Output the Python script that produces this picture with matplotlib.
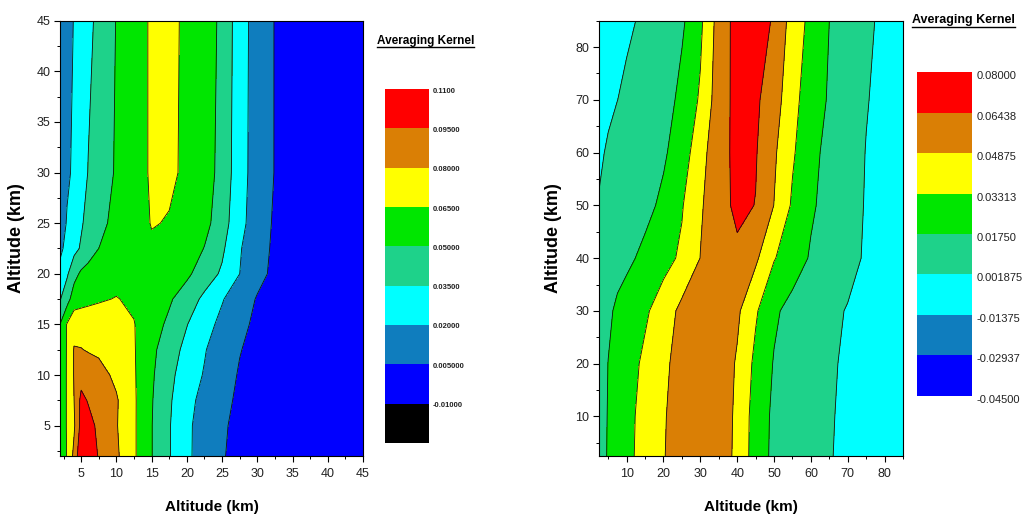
import numpy as np
import matplotlib
matplotlib.use('Agg')
import matplotlib.pyplot as plt
import matplotlib.transforms as mtransforms
from matplotlib.ticker import MultipleLocator
from matplotlib.lines import Line2D

plt.rcParams['font.family'] = ['Liberation Sans', 'DejaVu Sans']

############################################
# data, left panel
alt_x_left = [2, 3, 4, 5, 6, 7.5, 10, 12.5, 15, 17.5, 20, 22.5, 25, 27.5, 30, 32.5, 35, 45]
alt_y_left = [2, 5, 7.5, 10, 12.5, 15, 17.5, 20, 22.5, 25, 30, 45]
kernel_left = [
    [0.052, 0.066, 0.084, 0.108, 0.104, 0.094, 0.0825, 0.067, 0.0505, 0.036, 0.0225, 0.014, 0.006, 0.001, 0.0, -0.001, -0.002, -0.002],
    [0.056, 0.066, 0.078, 0.100, 0.100, 0.092, 0.081, 0.067, 0.0505, 0.036, 0.0225, 0.0145, 0.0068, 0.0015, 0.0, -0.001, -0.002, -0.002],
    [0.056, 0.066, 0.080, 0.099, 0.094, 0.089, 0.0815, 0.067, 0.051, 0.037, 0.024, 0.016, 0.008, 0.003, 0.0, -0.001, -0.002, -0.002],
    [0.056, 0.066, 0.081, 0.089, 0.088, 0.085, 0.077, 0.0665, 0.052, 0.039, 0.027, 0.019, 0.010, 0.004, 0.001, -0.001, -0.002, -0.002],
    [0.055, 0.066, 0.081, 0.0805, 0.079, 0.0775, 0.073, 0.066, 0.0535, 0.0415, 0.031, 0.021, 0.012, 0.0055, 0.0015, 0.0, -0.001, -0.002],
    [0.050, 0.066, 0.0741, 0.074, 0.073, 0.0715, 0.070, 0.0655, 0.0565, 0.047, 0.0355, 0.025, 0.0165, 0.008, 0.0025, 0.0, -0.001, -0.002],
    [0.034, 0.044, 0.0579, 0.060, 0.0619, 0.0638, 0.0655, 0.063, 0.058, 0.052, 0.042, 0.032, 0.021, 0.012, 0.004, 0.0, -0.001, -0.002],
    [0.024, 0.033, 0.045, 0.0525, 0.056, 0.059, 0.061, 0.0605, 0.059, 0.056, 0.053, 0.042, 0.033, 0.020, 0.009, 0.002, 0.0, -0.002],
    [0.017, 0.024, 0.031, 0.0365, 0.042, 0.050, 0.058, 0.062, 0.0635, 0.0625, 0.058, 0.0495, 0.0375, 0.021, 0.012, 0.002, 0.0, -0.002],
    [0.013, 0.021, 0.029, 0.0335, 0.039, 0.046, 0.054, 0.060, 0.0655, 0.0645, 0.061, 0.0545, 0.042, 0.024, 0.013, 0.003, 0.0, -0.002],
    [0.012, 0.018, 0.022, 0.028, 0.0355, 0.042, 0.0515, 0.0595, 0.0665, 0.0665, 0.0635, 0.057, 0.045, 0.026, 0.013, 0.0045, 0.0, -0.002],
    [0.012, 0.016, 0.0205, 0.026, 0.031, 0.039, 0.0505, 0.0595, 0.0665, 0.067, 0.0635, 0.057, 0.047, 0.0265, 0.0135, 0.0045, 0.0, -0.002],
]
levels_left = [-0.025, -0.01, 0.005, 0.02, 0.035, 0.05, 0.065, 0.08, 0.095, 0.11]
labels_left = ['-0.01000', '0.005000', '0.02000', '0.03500', '0.05000',
               '0.06500', '0.08000', '0.09500', '0.1100']
colors_left = ['#000000', '#0000FF', '#0F7DBE', '#00FFFF', '#1ED28A',
               '#00E600', '#FFFF00', '#DA7F05', '#FF0000']

############################################
# data, right panel
alt_x_right = [2.5, 5, 7.5, 10, 12.5, 15, 20, 25, 30, 35, 40, 45, 50, 55, 60, 65, 70, 75, 80, 85]
alt_y_right = [2.5, 10, 20, 30, 40, 50, 60, 70, 85]
kernel_right = [
    [0.010, 0.019, 0.024, 0.029, 0.034, 0.039, 0.048, 0.056, 0.060, 0.058, 0.045, 0.026, 0.014, 0.0095, 0.006, 0.0025, -0.0005, -0.003, -0.005, -0.006],
    [0.010, 0.0185, 0.0235, 0.0285, 0.0335, 0.0385, 0.0475, 0.0555, 0.0605, 0.0585, 0.0455, 0.0265, 0.0145, 0.0097, 0.0062, 0.0028, -0.0003, -0.003, -0.005, -0.006],
    [0.009, 0.0178, 0.0225, 0.027, 0.0315, 0.036, 0.046, 0.054, 0.060, 0.059, 0.047, 0.0295, 0.0165, 0.0105, 0.007, 0.0035, 0.0, -0.003, -0.005, -0.006],
    [0.008, 0.0145, 0.0205, 0.025, 0.029, 0.031, 0.040, 0.053, 0.059, 0.060, 0.0515, 0.035, 0.020, 0.0125, 0.008, 0.0045, 0.0012, -0.002, -0.004, -0.005],
    [0.0065, 0.009, 0.0115, 0.014, 0.0177, 0.021, 0.0285, 0.0355, 0.049, 0.058, 0.061, 0.0515, 0.034, 0.025, 0.016, 0.010, 0.0055, 0.0005, -0.002, -0.004],
    [0.003, 0.005, 0.007, 0.009, 0.011, 0.0135, 0.0205, 0.032, 0.047, 0.058, 0.068, 0.064, 0.0485, 0.031, 0.0195, 0.0125, 0.007, 0.001, -0.002, -0.004],
    [-0.001, 0.004, 0.0065, 0.008, 0.0095, 0.011, 0.0155, 0.025, 0.043, 0.059, 0.068, 0.0655, 0.051, 0.035, 0.022, 0.013, 0.0075, 0.0015, -0.002, -0.004],
    [-0.004, -0.0015, 0.0018, 0.004, 0.0055, 0.007, 0.010, 0.022, 0.035, 0.057, 0.069, 0.067, 0.056, 0.038, 0.025, 0.016, 0.0085, 0.0025, -0.0015, -0.004],
    [-0.006, -0.004, -0.002, 0.0, 0.0019, 0.003, 0.006, 0.015, 0.030, 0.055, 0.070, 0.0705, 0.063, 0.042, 0.029, 0.0175, 0.011, 0.0035, 0.0, -0.003],
]
levels_right = [-0.045, -0.02937, -0.01375, 0.001875, 0.0175, 0.03313, 0.04875, 0.06438, 0.08]
labels_right = ['-0.04500', '-0.02937', '-0.01375', '0.001875', '0.01750',
                '0.03313', '0.04875', '0.06438', '0.08000']
colors_right = ['#0000FF', '#0F7DBE', '#00FFFF', '#1ED28A',
                '#00E600', '#FFFF00', '#DA7F05', '#FF0000']

#############################################
## Plotting Data
fig = plt.figure(figsize=(10.22, 5.20), dpi=100)

ax1 = fig.add_axes([0.0587, 0.1231, 0.2965, 0.8371])
ax2 = fig.add_axes([0.5861, 0.1231, 0.2975, 0.8371])
cax1 = fig.add_axes([0.3767, 0.1481, 0.0431, 0.6807])
cax2 = fig.add_axes([0.8973, 0.2385, 0.0538, 0.6230])

tick_col = '#222222'


def draw_panel(ax, xs, ys, zz, levels, colors, xmaj, xmin_, ymaj, ymin_):
    X, Y = np.meshgrid(xs, ys)
    Z = np.array(zz)
    cf = ax.contourf(X, Y, Z, levels=levels, colors=colors)
    ax.contour(X, Y, Z, levels=levels[1:-1], colors='#111111', linewidths=0.6)
    ax.set_xlim(xs[0], xs[-1])
    ax.set_ylim(ys[0], ys[-1])
    ax.xaxis.set_major_locator(MultipleLocator(xmaj))
    ax.xaxis.set_minor_locator(MultipleLocator(xmin_))
    ax.yaxis.set_major_locator(MultipleLocator(ymaj))
    ax.yaxis.set_minor_locator(MultipleLocator(ymin_))
    ax.tick_params(which='major', direction='out', length=4.5, width=0.8,
                   labelsize=9, pad=2.5, labelcolor=tick_col)
    ax.tick_params(axis='x', which='major', pad=4)
    ax.tick_params(which='minor', direction='out', length=2.5, width=0.7)
    for s in ax.spines.values():
        s.set_linewidth(0.8)
    ax.set_xlabel('Altitude (km)', fontsize=11, fontweight='bold')
    ax.set_ylabel('Altitude (km)', fontsize=13, fontweight='bold')
    return cf


cf1 = draw_panel(ax1, alt_x_left, alt_y_left, kernel_left, levels_left, colors_left, 5, 2.5, 5, 2.5)
cf2 = draw_panel(ax2, alt_x_right, alt_y_right, kernel_right, levels_right, colors_right, 10, 5, 10, 5)

ax1.xaxis.set_label_coords(0.5, -0.10)
ax2.xaxis.set_label_coords(0.5, -0.10)
ax1.yaxis.set_label_coords(-0.116, 0.5)
ax2.yaxis.set_label_coords(-0.122, 0.5)


# colour scales
def draw_scale(cax, cf, levels, labels, fsize, weight, dy):
    cb = fig.colorbar(cf, cax=cax)
    cb.outline.set_visible(False)
    cb.set_ticks([])
    trans = mtransforms.blended_transform_factory(cax.transAxes, cax.transData)
    trans = mtransforms.offset_copy(trans, fig=fig, x=0, y=dy, units='dots')
    for lev, lab in zip(levels[-len(labels):], labels):
        cax.text(1.09, lev, lab, transform=trans, ha='left', va='center',
                 fontsize=fsize, fontweight=weight, color=tick_col)


draw_scale(cax1, cf1, levels_left, labels_left, 5.5, 'bold', -2)
draw_scale(cax2, cf2, levels_right, labels_right, 8, 'normal', -4)

# titles with underline
t1 = fig.text(0.3689, 0.9217, 'Averaging Kernel', ha='left', va='center',
              fontsize=8.5, fontweight='bold')
t2 = fig.text(0.8924, 0.9615, 'Averaging Kernel', ha='left', va='center',
              fontsize=9, fontweight='bold')
fig.canvas.draw()
for t in (t1, t2):
    bb = t.get_window_extent()
    x0, x1 = bb.x0 / fig.bbox.width, bb.x1 / fig.bbox.width
    yl = (bb.y0 - 0.5) / fig.bbox.height
    fig.add_artist(Line2D([x0, x1], [yl, yl], color='k', linewidth=1.0,
                          transform=fig.transFigure))

fig.savefig('out.png', dpi=100)
